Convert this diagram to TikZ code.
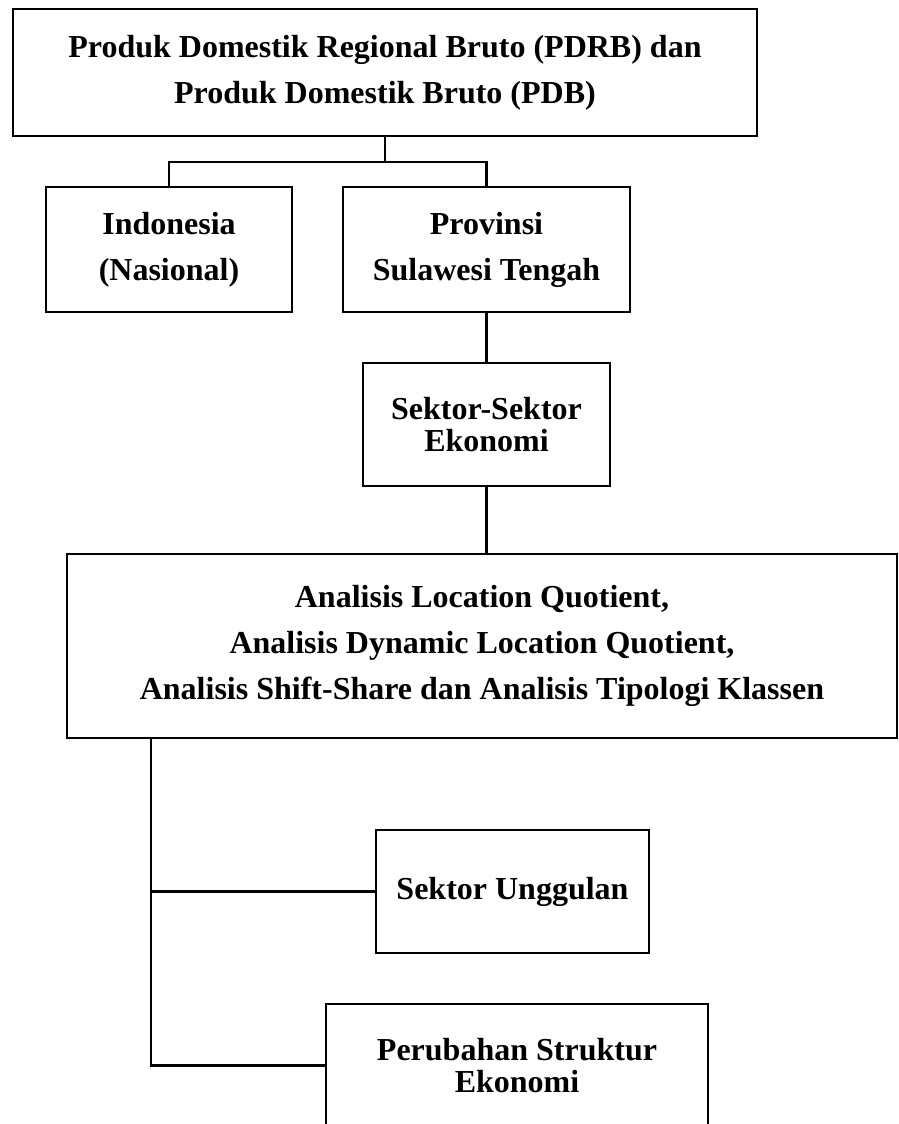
\documentclass[tikz,border=0pt]{standalone}
\usepackage{fontspec}
\setmainfont{Liberation Serif}
\usetikzlibrary{positioning}

\begin{document}
\begin{tikzpicture}[box/.style={draw,line width=1.8pt,outer sep=0pt,inner sep=0pt,align=center,font=\fontsize{24}{34.5}\selectfont\bfseries},tight/.style={font=\fontsize{24}{24}\selectfont\bfseries},link/.style={line width=1.6pt}]
 \useasboundingbox (0,0) rectangle (674.25pt,-843pt);
 \node[box,minimum width=558pt,minimum height=95.25pt] (pdrb) at (288.75pt,-54.4pt) {Produk Domestik Regional Bruto (PDRB) dan\\Produk Domestik Bruto (PDB)};
 \node[box,minimum width=184.5pt,minimum height=93.75pt,below right=38.25pt and 24.75pt of pdrb.south west] (indo) {Indonesia\\(Nasional)};
 \node[box,minimum width=215.25pt,minimum height=93.75pt,right=38.25pt of indo] (prov) {Provinsi\\Sulawesi Tengah};
 \node[box,tight,minimum width=185.25pt,minimum height=92.25pt,below=38.25pt of prov] (sektor) {Sektor-Sektor\\Ekonomi};
 \node[box,minimum width=622.5pt,minimum height=138pt,below=51pt of sektor,xshift=-3.375pt] (analisis) {Analisis Location Quotient,\\Analisis Dynamic Location Quotient,\\Analisis Shift-Share dan Analisis Tipologi Klassen};
 \node[box,minimum width=204.75pt,minimum height=92.25pt,below right=69pt and 231.75pt of analisis.south west] (unggul) {Sektor Unggulan};
 \node[box,tight,minimum width=286.5pt,minimum height=92.25pt,below right=199.5pt and 194.25pt of analisis.south west] (ubah) {Perubahan Struktur\\Ekonomi};
 \draw[link] (pdrb.south) -- ++(0,-19.5pt) coordinate (fork);
 \draw[link] (indo.north) |- (fork) -| (prov.north);
 \draw[link] (prov) -- (sektor);
 \draw[link] (sektor.south) -- (sektor.south |- analisis.north);
 \coordinate (trunk) at ([xshift=63pt]analisis.south west);
 \draw[link] (trunk) |- (ubah.west);
 \draw[link] (trunk |- unggul.west) -- (unggul.west);
\end{tikzpicture}
\end{document}
